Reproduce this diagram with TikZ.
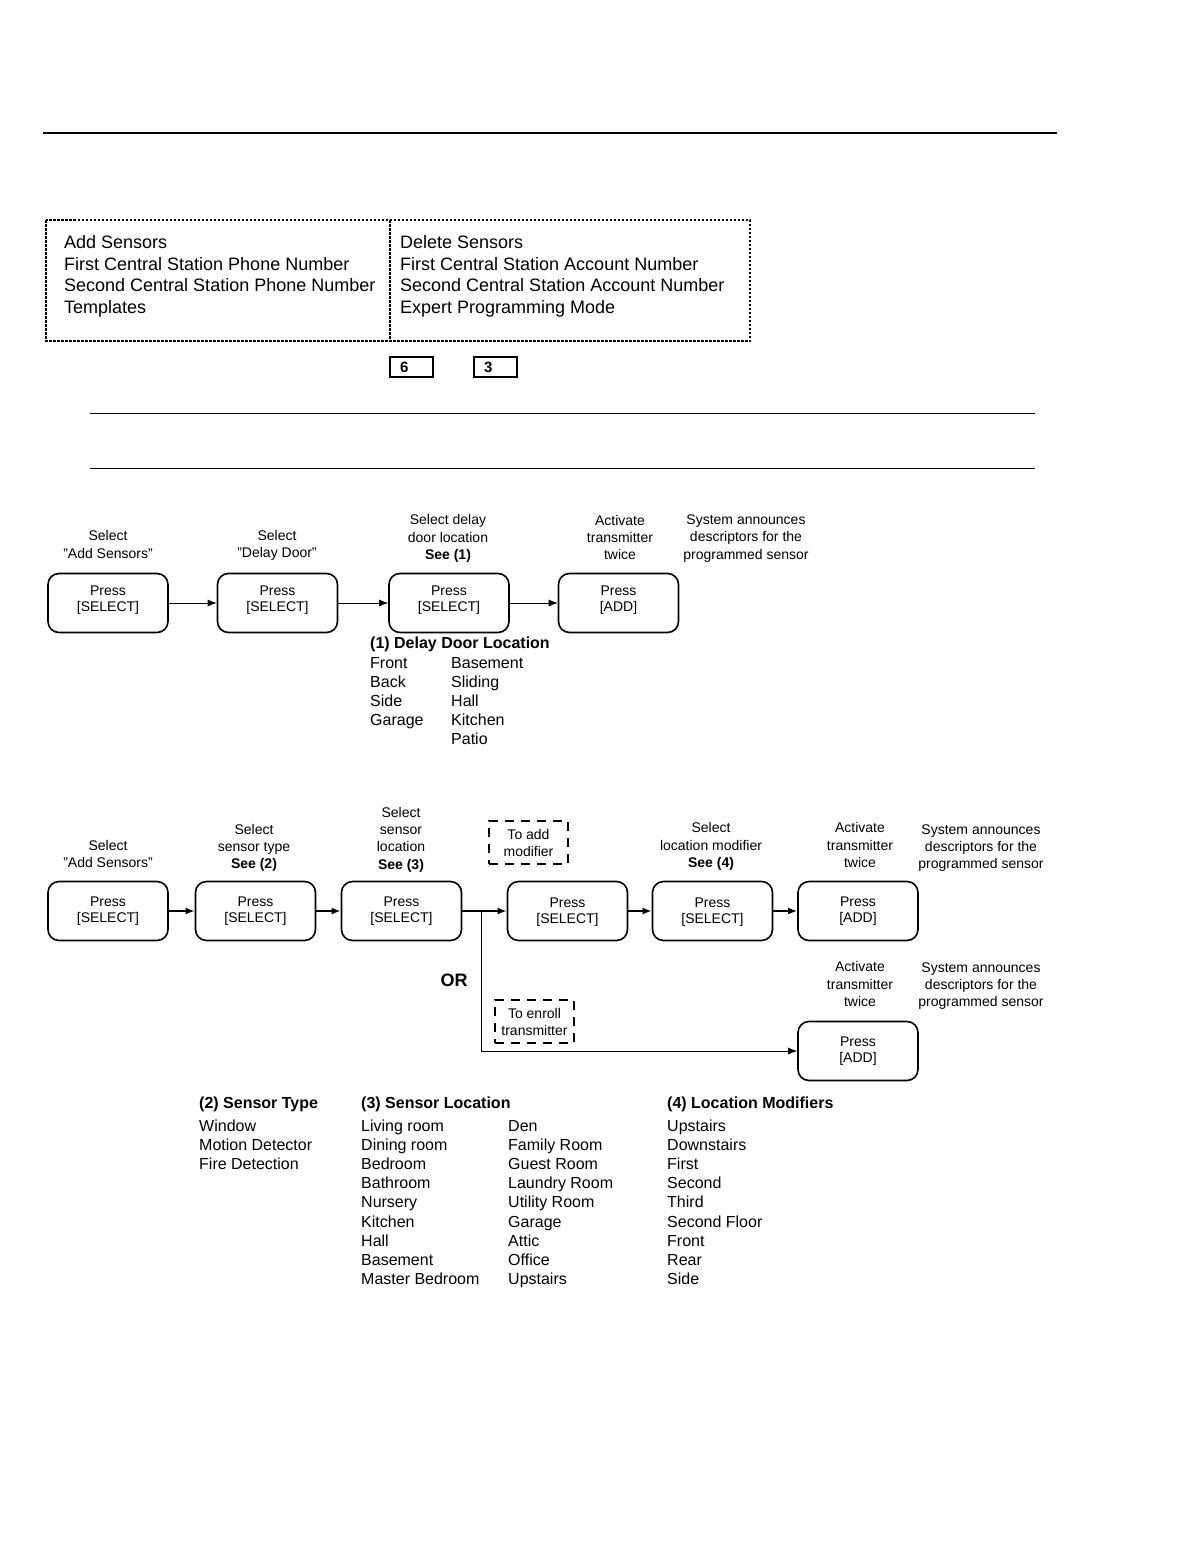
\documentclass[tikz,border=0pt]{standalone}
\usepackage{fontspec}
\setmainfont{Liberation Sans}
\usetikzlibrary{arrows.meta,positioning}

\begin{document}
\begin{tikzpicture}[x=1pt,y=-1pt,
  lbl/.style={align=center,inner sep=0pt,font=\fontsize{14}{17.3}\selectfont},
  presbox/.style={draw,line width=1.6pt,rounded corners=11pt,minimum width=120pt,minimum height=59pt,
    align=center,inner sep=0pt,font=\fontsize{14}{16}\selectfont},
  presup/.style={presbox,text depth=9pt},
  presdown/.style={presbox,text depth=0pt},
  notebox/.style={draw,line width=2pt,dash pattern=on 9pt off 7pt,minimum width=79pt,minimum height=43pt,
    align=center,inner sep=0pt,font=\fontsize{14}{17}\selectfont},
  keybox/.style={draw,line width=1.2pt,minimum height=20pt,text width=23pt,inner xsep=10pt,inner ysep=0pt,
    align=left,font=\bfseries\fontsize{15}{17}\selectfont},
  menutxt/.style={anchor=base west,inner sep=0pt,font=\fontsize{18}{21}\selectfont},
  item/.style={anchor=base west,inner sep=0pt,font=\fontsize{16}{19}\selectfont},
  head/.style={item,font=\bfseries\fontsize{16}{19}\selectfont},
  arr/.style={-{Latex[length=9pt,width=7pt]},line width=0.8pt},
  arrb/.style={-{Latex[length=9pt,width=7pt]},line width=1.8pt}]
  \useasboundingbox (0,0) rectangle (1198,1560);

  % rules
  \draw[line width=2pt] (43,133) -- (1057,133);
  \draw[line width=0.8pt] (90,413) -- (1035,413);
  \draw[line width=0.8pt] (90,468) -- (1035,468);

  % menu table
  \draw[line width=1.2pt,dash pattern=on 2.5pt off 1.5pt] (46,220) rectangle (750,341);
  \draw[line width=1.2pt,dash pattern=on 2.5pt off 1.5pt] (390,220) -- (390,341);
  \foreach \t [count=\i from 0] in {Add Sensors,First Central Station Phone Number,Second Central Station Phone Number,Templates}
    \node[menutxt] (ml\i) at (64,{248.5+21.7*\i}) {\t};
  \foreach \t [count=\i from 0] in {Delete Sensors,First Central Station Account Number,Second Central Station Account Number,Expert Programming Mode}
    \node[menutxt] (mr\i) at (400,{248.5+21.7*\i}) {\t};
  \node[keybox] (k6) at (411.5,367) {6};
  \node[keybox] (k3) at (495.5,367) {3};

  % delay door sequence
  \node[presup] (d1) at (108,603) {Press\\{[SELECT]}};
  \node[presup] (d2) at (277.5,603) {Press\\{[SELECT]}};
  \node[presup] (d3) at (449,603) {Press\\{[SELECT]}};
  \node[presup] (d4) at (618.5,603) {Press\\{[ADD]}};
  \draw[arr] (d1) -- (d2);
  \draw[arr] (d2) -- (d3);
  \draw[arr] (d3) -- (d4);
  \node[lbl] (dl1) at (108,544.5) {Select\\"Add Sensors"};
  \node[lbl] (dl2) at (277,545.5) {Select\\"Delay Door"};
  \node[lbl] (dl3) at (448,538.5) {Select delay\\door location\\\textbf{See (1)}};
  \node[lbl] (dl4) at (620,537.5) {Activate\\transmitter\\twice};
  \node[lbl] (dl5) at (746,538.5) {System announces\\descriptors for the\\programmed sensor};

  \node[head] (h1) at (370,648) {(1) Delay Door Location};
  \foreach \t [count=\i from 0] in {Front,Back,Side,Garage}
    \node[item] (ddl\i) at (370,{668+19*\i}) {\t};
  \foreach \t [count=\i from 0] in {Basement,Sliding,Hall,Kitchen,Patio}
    \node[item] (ddr\i) at (451,{668+19*\i}) {\t};

  % sensor sequence
  \node[presbox] (s1) at (108,911) {Press\\{[SELECT]}};
  \node[presbox] (s2) at (255.5,911) {Press\\{[SELECT]}};
  \node[presbox] (s3) at (401.5,911) {Press\\{[SELECT]}};
  \node[presdown] (s4) at (567.5,911) {Press\\{[SELECT]}};
  \node[presdown] (s5) at (712.5,911) {Press\\{[SELECT]}};
  \node[presbox] (s6) at (858,911) {Press\\{[ADD]}};
  \node[presbox] (s7) at (858,1051) {Press\\{[ADD]}};
  \coordinate (br) at (481,911);
  \draw[arrb] (s1) -- (s2);
  \draw[arrb] (s2) -- (s3);
  \draw[arrb] (s3) -- (s4);
  \draw[arrb] (s4) -- (s5);
  \draw[arrb] (s5) -- (s6);
  \draw[arr] (br) |- (s7);

  \node[lbl] (sl1) at (108,854) {Select\\"Add Sensors"};
  \node[lbl] (sl2) at (254,848) {Select\\sensor type\\\textbf{See (2)}};
  \node[lbl] (sl3) at (401,839.5) {Select\\sensor\\location\\\textbf{See (3)}};
  \node[notebox] (nmod) at (528.5,842.5) {To add\\modifier};
  \node[lbl] (sl5) at (711,846.5) {Select\\location modifier\\\textbf{See (4)}};
  \node[lbl] (sl6) at (860,845) {Activate\\transmitter\\twice};
  \node[lbl] (sl7) at (981,848) {System announces\\descriptors for the\\programmed sensor};
  \node[font=\bfseries\fontsize{18}{21}\selectfont,inner sep=0pt] (or) at (454,980) {OR};
  \node[notebox] (nenr) at (534.5,1021.5) {To enroll\\transmitter};
  \node[lbl] (tl6) at (860,984) {Activate\\transmitter\\twice};
  \node[lbl] (tl7) at (981,986) {System announces\\descriptors for the\\programmed sensor};

  % lists
  \node[head] (h2) at (199,1108) {(2) Sensor Type};
  \node[head] (h3) at (361,1108) {(3) Sensor Location};
  \node[head] (h4) at (667,1108) {(4) Location Modifiers};
  \foreach \t [count=\i from 0] in {Window,Motion Detector,Fire Detection}
    \node[item] (st\i) at (199,{1131+19.2*\i}) {\t};
  \foreach \t [count=\i from 0] in {Living room,Dining room,Bedroom,Bathroom,Nursery,Kitchen,Hall,Basement,Master Bedroom}
    \node[item] (sla\i) at (361,{1131+19.2*\i}) {\t};
  \foreach \t [count=\i from 0] in {Den,Family Room,Guest Room,Laundry Room,Utility Room,Garage,Attic,Office,Upstairs}
    \node[item] (slb\i) at (508,{1131+19.2*\i}) {\t};
  \foreach \t [count=\i from 0] in {Upstairs,Downstairs,First,Second,Third,Second Floor,Front,Rear,Side}
    \node[item] (lm\i) at (667,{1131+19.2*\i}) {\t};
\end{tikzpicture}
\end{document}
